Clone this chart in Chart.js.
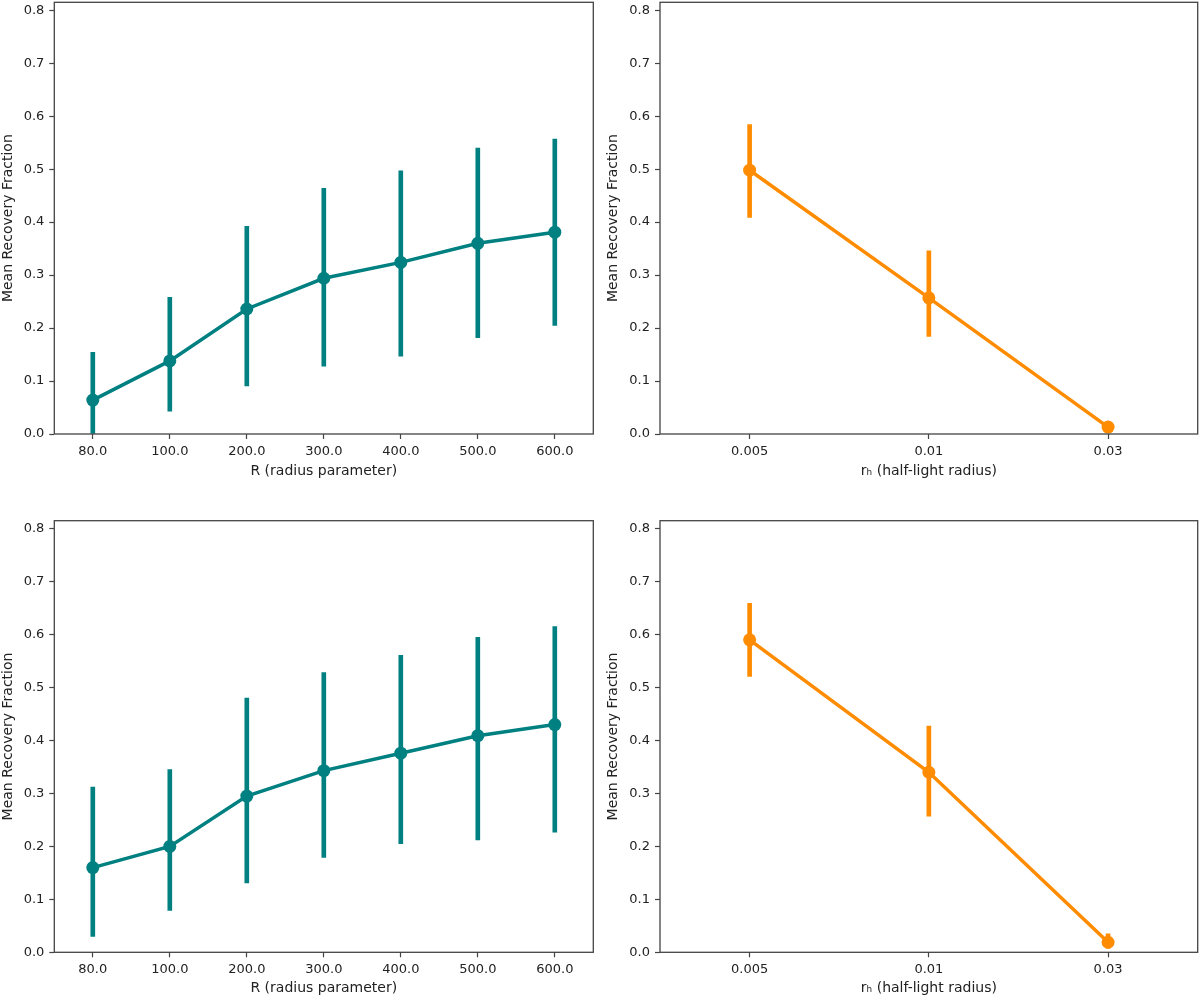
<!DOCTYPE html>
<html>
<head>
<meta charset="utf-8">
<script src="https://cdn.jsdelivr.net/npm/chart.js@4.4.1/dist/chart.umd.min.js"></script>
<style>
  html, body { margin: 0; padding: 0; background: #fff; }
  body { width: 1200px; height: 1000px; position: relative; overflow: hidden; }
  .cell { position: absolute; width: 600px; height: 500px; }
</style>
</head>
<body>
<div class="cell" style="left:0;top:0"><canvas id="c1"></canvas></div>
<div class="cell" style="left:600px;top:0"><canvas id="c2"></canvas></div>
<div class="cell" style="left:0;top:500px"><canvas id="c3"></canvas></div>
<div class="cell" style="left:600px;top:500px"><canvas id="c4"></canvas></div>
<script>
// ---- data ----
const R_LABELS = ['80.0', '100.0', '200.0', '300.0', '400.0', '500.0', '600.0'];
const RH_LABELS = ['0.005', '0.01', '0.03'];
const Y_MAX = 0.815;

const topR_mean = [0.064, 0.138, 0.236, 0.294, 0.324, 0.360, 0.381];
const topR_lo   = [0.000, 0.043, 0.091, 0.128, 0.147, 0.182, 0.205];
const topR_hi   = [0.154, 0.258, 0.392, 0.464, 0.497, 0.540, 0.557];

const topRh_mean = [0.498, 0.257, 0.013];
const topRh_lo   = [0.409, 0.184, 0.006];
const topRh_hi   = [0.584, 0.346, 0.021];

const botR_mean = [0.160, 0.200, 0.295, 0.343, 0.376, 0.409, 0.430];
const botR_lo   = [0.030, 0.079, 0.131, 0.179, 0.205, 0.212, 0.227];
const botR_hi   = [0.312, 0.345, 0.480, 0.528, 0.561, 0.595, 0.615];

const botRh_mean = [0.590, 0.340, 0.019];
const botRh_lo   = [0.521, 0.257, 0.008];
const botRh_hi   = [0.659, 0.427, 0.035];

const TEAL = '#008080';
const ORANGE = '#ff8c00';
const TEXT = '#222222';
const AXIS = '#444444';
const FONT = 'DejaVu Sans';

const frame = {
  id: 'frame',
  afterDatasetsDraw(chart) {
    const a = chart.chartArea, ctx = chart.ctx;
    ctx.save();
    ctx.strokeStyle = AXIS;
    ctx.lineWidth = 1.3;
    ctx.strokeRect(a.left, a.top, a.right - a.left, a.bottom - a.top);
    ctx.restore();
  }
};

function makeChart(id, labels, mean, lo, hi, color, xTitle, g) {
  const ranges = lo.map((v, i) => [v, hi[i]]);
  new Chart(document.getElementById(id), {
    type: 'bar',
    data: {
      labels: labels,
      datasets: [
        {
          type: 'line',
          data: mean,
          borderColor: color,
          backgroundColor: color,
          borderWidth: 3.5,
          pointRadius: 6.5,
          pointBorderWidth: 0,
          pointBackgroundColor: color,
          tension: 0,
          order: 1
        },
        {
          type: 'bar',
          data: ranges,
          backgroundColor: color,
          borderWidth: 0,
          barThickness: 4,
          order: 2
        }
      ]
    },
    options: {
      responsive: true,
      maintainAspectRatio: false,
      animation: false,
      events: [],
      layout: { autoPadding: false, padding: { top: g.padTop, right: g.padRight, left: 0, bottom: 0 } },
      plugins: { legend: { display: false }, tooltip: { enabled: false } },
      scales: {
        x: {
          type: 'category',
          offset: true,
          border: { display: false },
          grid: { display: true, offset: false, drawOnChartArea: false, drawTicks: true, tickLength: 5, tickColor: AXIS, tickWidth: 1.2 },
          ticks: { color: TEXT, font: { family: FONT, size: 13 }, padding: 5, maxRotation: 0, autoSkip: false },
          title: { display: true, text: xTitle, color: TEXT, font: { family: FONT, size: 14 }, padding: { top: 0, bottom: g.xTitlePad } },
          afterFit(s) { s.height = g.xHeight; s.paddingLeft = 0; s.paddingRight = 0; }
        },
        y: {
          min: 0,
          max: Y_MAX,
          border: { display: false },
          grid: { display: true, drawOnChartArea: false, drawTicks: true, tickLength: 5, tickColor: AXIS, tickWidth: 1.2 },
          ticks: { stepSize: 0.1, includeBounds: false, color: TEXT, font: { family: FONT, size: 13 }, padding: 5, callback: v => Number(v).toFixed(1) },
          title: { display: true, text: 'Mean Recovery Fraction', color: TEXT, font: { family: FONT, size: 14 }, padding: { top: g.yTitlePad, bottom: 0 } },
          afterFit(s) { s.width = g.yWidth; s.paddingTop = 0; s.paddingBottom = 0; }
        }
      }
    },
    plugins: [frame]
  });
}

const gTL = { padTop: 2.3, padRight: 6.7, xHeight: 66, xTitlePad: 19.9, yWidth: 54.3, yTitlePad: 0 };
const gTR = { padTop: 2.3, padRight: 2.3, xHeight: 66, xTitlePad: 19.9, yWidth: 60, yTitlePad: 5.2 };
const gBL = { padTop: 20.7, padRight: 6.7, xHeight: 47.7, xTitlePad: 3.6, yWidth: 54.3, yTitlePad: 0 };
const gBR = { padTop: 20.7, padRight: 2.3, xHeight: 47.7, xTitlePad: 3.6, yWidth: 60, yTitlePad: 5.2 };

makeChart('c1', R_LABELS, topR_mean, topR_lo, topR_hi, TEAL, 'R (radius parameter)', gTL);
makeChart('c2', RH_LABELS, topRh_mean, topRh_lo, topRh_hi, ORANGE, 'r\u2095 (half-light radius)', gTR);
makeChart('c3', R_LABELS, botR_mean, botR_lo, botR_hi, TEAL, 'R (radius parameter)', gBL);
makeChart('c4', RH_LABELS, botRh_mean, botRh_lo, botRh_hi, ORANGE, 'r\u2095 (half-light radius)', gBR);
</script>
</body>
</html>
